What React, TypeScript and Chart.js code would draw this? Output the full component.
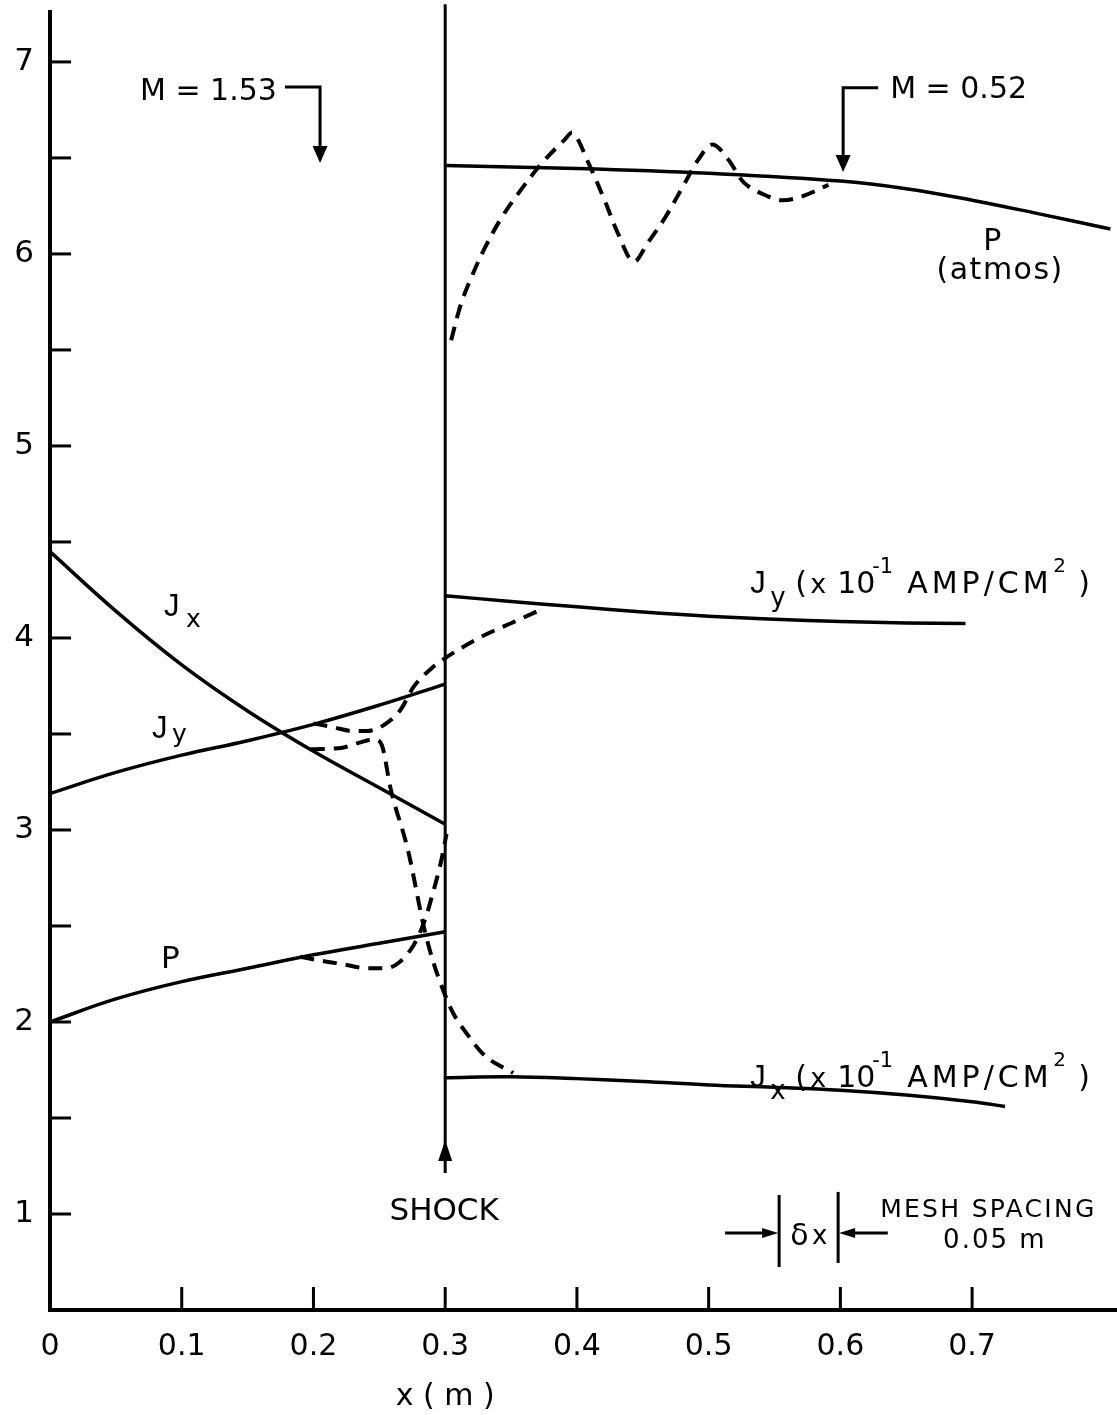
import React, { useEffect, useRef } from 'react';
import { Chart, registerables } from 'chart.js';
Chart.register(...registerables);

const FONT = '"DejaVu Sans", "Liberation Sans", sans-serif';
const JFONT = '"Liberation Sans", "DejaVu Sans", sans-serif';

// ---- axes ----
const X_MIN = 0;
const X_MAX = 0.81;
const Y_MIN = 0.5;
const Y_MAX = 7.26;
const xTicks = [0, 0.1, 0.2, 0.3, 0.4, 0.5, 0.6, 0.7];
const xTickLabels = ['0', '0.1', '0.2', '0.3', '0.4', '0.5', '0.6', '0.7'];
const yTicks = [1, 1.5, 2, 2.5, 3, 3.5, 4, 4.5, 5, 5.5, 6, 6.5, 7];
const yTickLabels = ['1', '', '2', '', '3', '', '4', '', '5', '', '6', '', '7'];

// ---- upstream of shock (solid) ----
const leftX = [0, 0.05, 0.1, 0.15, 0.2, 0.25, 0.3];
const pLeftY = [2.0, 2.12, 2.21, 2.28, 2.35, 2.41, 2.47];
const jyLeftY = [3.19, 3.3, 3.39, 3.465, 3.55, 3.65, 3.76];
const jxLeftY = [4.45, 4.14, 3.86, 3.62, 3.41, 3.22, 3.03];

// ---- downstream of shock (solid) ----
const pRightX = [0.3, 0.4, 0.5, 0.6, 0.65, 0.7, 0.75, 0.805];
const pRightY = [6.46, 6.445, 6.42, 6.38, 6.34, 6.28, 6.21, 6.13];
const jyRightX = [0.3, 0.35, 0.4, 0.45, 0.5, 0.55, 0.6, 0.65, 0.695];
const jyRightY = [4.22, 4.19, 4.162, 4.135, 4.113, 4.097, 4.086, 4.078, 4.075];
const jxRightX = [0.3, 0.35, 0.4, 0.45, 0.5, 0.55, 0.6, 0.65, 0.7, 0.725];
const jxRightY = [1.71, 1.715, 1.705, 1.69, 1.672, 1.66, 1.645, 1.62, 1.585, 1.56];

// ---- numerical solution (dashed) ----
const pDashLX = [0.19, 0.205, 0.223, 0.241, 0.255, 0.265, 0.276, 0.284, 0.291, 0.297, 0.301];
const pDashLY = [2.34, 2.32, 2.3, 2.28, 2.28, 2.31, 2.4, 2.52, 2.68, 2.84, 2.98];
const jyDashX = [0.2, 0.215, 0.23, 0.24, 0.251, 0.266, 0.276, 0.291, 0.3, 0.308, 0.327, 0.352, 0.375];
const jyDashY = [3.555, 3.535, 3.515, 3.515, 3.536, 3.625, 3.745, 3.85, 3.895, 3.93, 4.005, 4.083, 4.155];
const jxDashX = [0.198, 0.223, 0.24, 0.247, 0.252, 0.2588, 0.2717, 0.284, 0.2905, 0.299, 0.306, 0.316, 0.3295, 0.3516];
const jxDashY = [3.42, 3.43, 3.465, 3.47, 3.44, 3.208, 2.896, 2.49, 2.323, 2.156, 2.047, 1.943, 1.828, 1.734];
const pDashRX = [0.3045, 0.312, 0.32, 0.33, 0.342, 0.355, 0.373, 0.39, 0.397, 0.409, 0.421, 0.431, 0.443, 0.454, 0.467, 0.482, 0.492, 0.503, 0.515, 0.527, 0.545, 0.556, 0.571, 0.591];
const pDashRY = [5.55, 5.74, 5.88, 6.03, 6.18, 6.31, 6.47, 6.59, 6.63, 6.47, 6.28, 6.11, 5.96, 6.06, 6.19, 6.37, 6.49, 6.57, 6.49, 6.37, 6.3, 6.28, 6.3, 6.36];

// ---- shock front ----
const shockX = [0.3, 0.3];
const shockY = [1.214, 7.3];

const pts = (xs: number[], ys: number[]) => xs.map((x, i) => ({ x, y: ys[i] }));

const solid = (xs: number[], ys: number[]) => ({
  data: pts(xs, ys),
  showLine: true,
  borderColor: '#000',
  backgroundColor: '#000',
  borderWidth: 3.5,
  pointRadius: 0,
  fill: false,
  tension: 0.4,
});
const dashed = (xs: number[], ys: number[], monotone = true) => ({
  ...solid(xs, ys),
  borderWidth: 4,
  borderDash: [14, 9],
  tension: monotone ? 0 : 0.35,
  cubicInterpolationMode: monotone ? ('monotone' as const) : ('default' as const),
});

const annotPlugin = {
  id: 'annot',
  afterDraw(chart: any) {
    const { ctx, chartArea } = chart;
    const sx = chart.scales.x;
    const sy = chart.scales.y;
    const X = (v: number) => sx.getPixelForValue(v);
    const Y = (v: number) => sy.getPixelForValue(v);
    ctx.save();
    ctx.strokeStyle = '#000';
    ctx.fillStyle = '#000';
    const line = (p: number[][], w = 3) => {
      ctx.lineWidth = w;
      ctx.setLineDash([]);
      ctx.beginPath();
      p.forEach(([a, b], i) => (i ? ctx.lineTo(a, b) : ctx.moveTo(a, b)));
      ctx.stroke();
    };
    const tri = (p: number[][]) => {
      ctx.beginPath();
      p.forEach(([a, b], i) => (i ? ctx.lineTo(a, b) : ctx.moveTo(a, b)));
      ctx.closePath();
      ctx.fill();
    };
    const text = (s: string, x: number, y: number, size: number, align: CanvasTextAlign = 'left', spacing = 0, fam = FONT) => {
      ctx.font = `${size}px ${fam}`;
      (ctx as any).letterSpacing = `${spacing}px`;
      ctx.textAlign = align;
      ctx.textBaseline = 'alphabetic';
      ctx.fillText(s, x, y);
    };

    // inner tick marks
    yTicks.forEach((v) => line([[chartArea.left, Y(v)], [chartArea.left + 21, Y(v)]], 3));
    xTicks.forEach((v) => {
      if (v > 0) line([[X(v), chartArea.bottom], [X(v), chartArea.bottom - 23]], 3);
    });

    // shock arrow
    const sxp = X(0.3);
    const tipY = Y(1.385);
    tri([[sxp, tipY], [sxp - 7, tipY + 21], [sxp + 7, tipY + 21]]);
    text('SHOCK', X(0.2992), Y(0.969), 31, 'center');

    // M = 1.53
    text('M = 1.53', X(0.0683), Y(6.802), 30, 'left');
    line([[X(0.1784), Y(6.87)], [X(0.205), Y(6.87)], [X(0.205), Y(6.474) - 14]], 3);
    tri([[X(0.205), Y(6.474)], [X(0.205) - 7.5, Y(6.474) - 17], [X(0.205) + 7.5, Y(6.474) - 17]]);

    // M = 0.52
    text('M = 0.52', X(0.6378), Y(6.8125), 30, 'left');
    line([[X(0.6287), Y(6.865)], [X(0.6021), Y(6.865)], [X(0.6021), Y(6.427) - 14]], 3);
    tri([[X(0.6021), Y(6.427)], [X(0.6021) - 7.5, Y(6.427) - 17], [X(0.6021) + 7.5, Y(6.427) - 17]]);

    // P (atmos)
    text('P', X(0.7153), Y(6.021), 30, 'center');
    text('(atmos)', X(0.7213), Y(5.867), 30, 'center', 1.5);

    // left curve labels
    text('J', X(0.0866), Y(4.115), 31, 'left', 0, JFONT);
    text('x', X(0.1033), Y(4.057), 25);
    text('J', X(0.0774), Y(3.479), 31, 'left', 0, JFONT);
    text('y', X(0.0926), Y(3.458), 25);
    text('P', X(0.0843), Y(2.281), 31);

    // right current labels
    const unitLabel = (sub: string, ax: number, ay: number, subDy: number) => {
      const x0 = X(ax);
      const y0 = Y(ay);
      text('J', x0, y0, 31, 'left', 0, JFONT);
      text(sub, x0 + 20, y0 + subDy, 26);
      text('(', x0 + 45, y0, 30);
      text('x', x0 + 60, y0, 27);
      text('10', x0 + 87, y0, 30);
      text('-1', x0 + 122, y0 - 20, 21);
      text('AMP/CM', x0 + 157, y0, 30, 'left', 4);
      text('2', x0 + 303, y0 - 21, 20);
      text(')', x0 + 328, y0, 30);
    };
    unitLabel('y', 0.5315, 4.234, 13);
    unitLabel('x', 0.5315, 1.659, 12);

    // mesh spacing
    const b1 = X(0.5535);
    const b2 = X(0.5983);
    line([[b1, Y(1.099)], [b1, Y(0.724)]], 3);
    line([[b2, Y(1.115)], [b2, Y(0.745)]], 3);
    const ay = Y(0.901);
    line([[X(0.5125), ay], [b1 - 14, ay]], 3);
    tri([[b1 - 1, ay], [b1 - 17, ay - 5], [b1 - 17, ay + 5]]);
    line([[X(0.636), ay], [b2 + 14, ay]], 3);
    tri([[b2 + 1, ay], [b2 + 17, ay - 5], [b2 + 17, ay + 5]]);
    text('δ', X(0.5619), Y(0.8385), 30);
    text('x', X(0.5785), Y(0.844), 26);
    text('MESH SPACING', X(0.6302), Y(0.984), 25, 'left', 2.3);
    text('0.05 m', X(0.678), Y(0.823), 26, 'left', 2);

    // axis title
    text('x ( m )', X(0.3), Y(0.005), 30, 'center');
    ctx.restore();
  },
};

export default function App() {
  const ref = useRef<HTMLCanvasElement | null>(null);
  useEffect(() => {
    document.body.style.margin = '0';
    const canvas = ref.current;
    if (!canvas) return;
    const datasets: any[] = [
      solid(leftX, pLeftY),
      solid(leftX, jyLeftY),
      solid(leftX, jxLeftY),
      solid(pRightX, pRightY),
      solid(jyRightX, jyRightY),
      solid(jxRightX, jxRightY),
      dashed(pDashLX, pDashLY),
      dashed(jyDashX, jyDashY),
      dashed(jxDashX, jxDashY),
      dashed(pDashRX, pDashRY, false),
      {
        data: pts(shockX, shockY),
        showLine: true,
        borderColor: '#000',
        borderWidth: 3,
        pointRadius: 0,
        tension: 0,
        clip: false,
      },
    ];
    const chart = new Chart(canvas, {
      type: 'scatter',
      data: { datasets },
      options: {
        animation: false,
        responsive: false,
        devicePixelRatio: 1,
        layout: { padding: { top: 12, right: 0, left: 0, bottom: 0 } },
        plugins: { legend: { display: false }, tooltip: { enabled: false } },
        scales: {
          x: {
            type: 'linear',
            min: X_MIN,
            max: X_MAX,
            afterBuildTicks: (s: any) => {
              s.ticks = xTicks.map((v) => ({ value: v }));
            },
            afterFit: (s: any) => {
              s.height = 105;
              s.paddingLeft = 0;
              s.paddingRight = 0;
            },
            grid: { display: false, drawTicks: false },
            border: { display: true, color: '#000', width: 4 },
            ticks: {
              callback: (_v: any, i: number) => xTickLabels[i] ?? '',
              font: { family: FONT, size: 30 },
              color: '#000',
              padding: 19,
              maxRotation: 0,
              autoSkip: false,
            },
          },
          y: {
            type: 'linear',
            min: Y_MIN,
            max: Y_MAX,
            afterBuildTicks: (s: any) => {
              s.ticks = yTicks.map((v) => ({ value: v }));
            },
            afterFit: (s: any) => {
              s.width = 50;
              s.paddingTop = 0;
              s.paddingBottom = 0;
            },
            grid: { display: false, drawTicks: false },
            border: { display: true, color: '#000', width: 4 },
            ticks: {
              callback: (_v: any, i: number) => yTickLabels[i] ?? '',
              font: { family: FONT, size: 31 },
              color: '#000',
              padding: 16,
              crossAlign: 'center',
              autoSkip: false,
            },
          },
        },
      },
      plugins: [annotPlugin],
    } as any);
    return () => chart.destroy();
  }, []);
  return (
    <div style={{ width: 1117, height: 1415, background: '#fff' }}>
      <canvas ref={ref} width={1117} height={1415} />
    </div>
  );
}
